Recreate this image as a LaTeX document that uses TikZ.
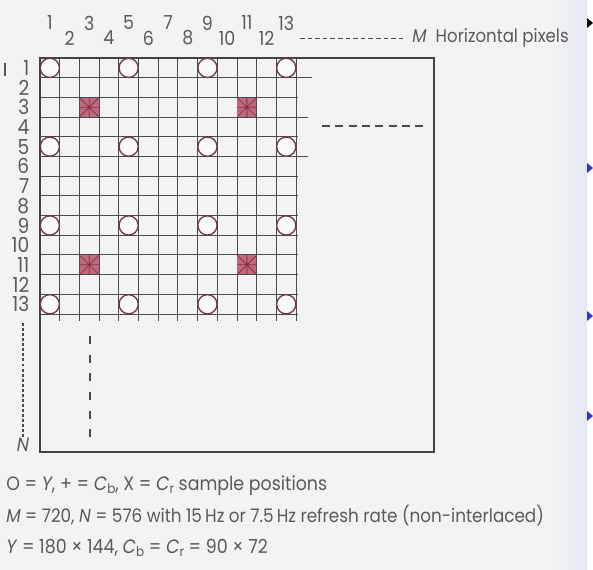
\documentclass[tikz,border=0pt]{standalone}
\usepackage{fontspec}
\setmainfont{Poppins}[FakeStretch=0.9]
\definecolor{bgc}{HTML}{F3F3F3}
\definecolor{edgec}{HTML}{E4E8F3}
\definecolor{txt}{HTML}{5A5A5A}
\definecolor{gridc}{HTML}{4A4A4A}
\definecolor{circc}{HTML}{6E3C40}
\definecolor{sqfill}{HTML}{BC6A7C}
\definecolor{sqline}{HTML}{8E2E4A}
\definecolor{bulletblue}{HTML}{3434D0}
\tikzset{
  gridline/.style={draw=gridc, line width=0.75pt},
  frame/.style={draw=gridc!90!black, line width=1.3pt},
  ysample/.style={circle, draw=circc, fill=white!60!bgc, line width=1pt, minimum size=14.4pt, inner sep=0pt},
  crsample/.style={rectangle, fill=sqfill, minimum size=14.2pt, inner sep=0pt},
  collab/.style={text=txt, font=\fontsize{14.5}{16}\selectfont, inner sep=0pt},
  rowlab/.style={text=txt, font=\fontsize{15.5}{17}\selectfont, inner sep=0pt, anchor=east},
  caption/.style={text=txt, font=\fontsize{14.5}{17}\selectfont, inner sep=0pt, anchor=base west},
  smalldash/.style={draw=gridc, line width=0.7pt, dash pattern=on 3.5pt off 2.2pt},
  longdash/.style={draw=gridc, line width=0.8pt, dash pattern=on 6pt off 4pt},
  vdash/.style={draw=gridc, line width=0.8pt, dash pattern=on 6pt off 8pt},
  dotline/.style={draw=gridc, line width=0.8pt, dash pattern=on 2.2pt off 1.6pt},
}
\newcommand{\sbsub}[1]{\raisebox{-0.35ex}{\fontsize{10}{11}\selectfont #1}}
\begin{document}
\begin{tikzpicture}[x=0.75pt,y=-0.75pt]
\useasboundingbox (0,0) rectangle (593,570);
\fill[bgc] (0,0) rectangle (593,570);
\shade[left color=bgc, right color=edgec] (550,0) rectangle (587,570);
\fill[white] (587,0) rectangle (593,570);
% slide bullets
\fill[black] (587,18) -- (593,23) -- (587,28) -- cycle;
\foreach \yy in {168,316,416} { \fill[bulletblue] (587,\yy-5) -- (593,\yy) -- (587,\yy+5) -- cycle; }
\def\s{19.7}
% grid
\foreach \i in {1,...,13} { \draw[gridline] ({40+\i*\s},58) -- ({40+\i*\s},321); }
\foreach \j/\e in {1/312,2/298,3/308,4/298,5/308,6/298,7/298,8/298,9/298,10/298,11/298,12/298,13/298}
  { \draw[gridline] (40,{58+\j*\s}) -- (\e,{58+\j*\s}); }
% frame
\draw[frame] (40,58) rectangle (434,452);
% Cr / Cb sample squares
\foreach \c/\r [count=\k] in {3/3,11/3,3/11,11/11} {
  \node[crsample] (sq\k) at ({40+(\c-0.5)*\s},{58+(\r-0.5)*\s}) {};
  \draw[sqline, line width=0.6pt] (sq\k.west) -- (sq\k.east) (sq\k.north) -- (sq\k.south)
     (sq\k.north west) -- (sq\k.south east) (sq\k.north east) -- (sq\k.south west);
}
% Y sample circles
\foreach \c in {1,5,9,13} { \foreach \r in {1,5,9,13} {
  \node[ysample] (y\c-\r) at ({40+(\c-0.5)*\s},{58+(\r-0.5)*\s}) {};
}}
% column labels
\foreach \c in {1,3,...,13} { \node[collab] (c\c) at ({40+(\c-0.5)*\s},23) {\c}; }
\foreach \c in {2,4,...,12} { \node[collab] (c\c) at ({40+(\c-0.5)*\s},38) {\c}; }
% row labels
\foreach \r in {1,...,13} { \node[rowlab] (r\r) at (29.5,{58+(\r-0.5)*\s}) {\r}; }
\draw[txt, line width=0.8pt] (5,63) -- (5,76);
% M horizontal pixels
\node[collab, anchor=west, font=\fontsize{13.8}{16}\selectfont] (mlab) at (412,38) {\textit{M}\,\,\,Horizontal pixels};
\coordinate (mdash0) at (300,38);
\coordinate (mdash1) at (404,38);
\draw[smalldash] (mdash0) -- (mdash1);
% right dashed
\coordinate (rd0) at (322,126); \coordinate (rd1) at (424,126);
\draw[longdash] (rd0) -- (rd1);
% N vertical
\node[collab] (nlab) at (23,445) {\textit{N}};
\coordinate (nd0) at (23,323);
\draw[dotline] (nd0) -- (nlab.north);
\coordinate (vd0) at (90,336); \coordinate (vd1) at (90,440);
\draw[vdash] (vd0) -- (vd1);
% captions
\node[caption] (cap1) at (6,490) {O = \textit{Y}, + = \textit{C}\sbsub{b}, X = \textit{C}\sbsub{r} sample positions};
\node[caption, font=\fontsize{14}{17}\selectfont] (cap2) at (6,522) {\textit{M} = 720, \textit{N} = 576 with 15\,Hz or 7.5\,Hz refresh rate (non-interlaced)};
\node[caption] (cap3) at (6,553) {\textit{Y} = 180 × 144, \textit{C}\sbsub{b} = \textit{C}\sbsub{r} = 90 × 72};
\end{tikzpicture}
\end{document}
